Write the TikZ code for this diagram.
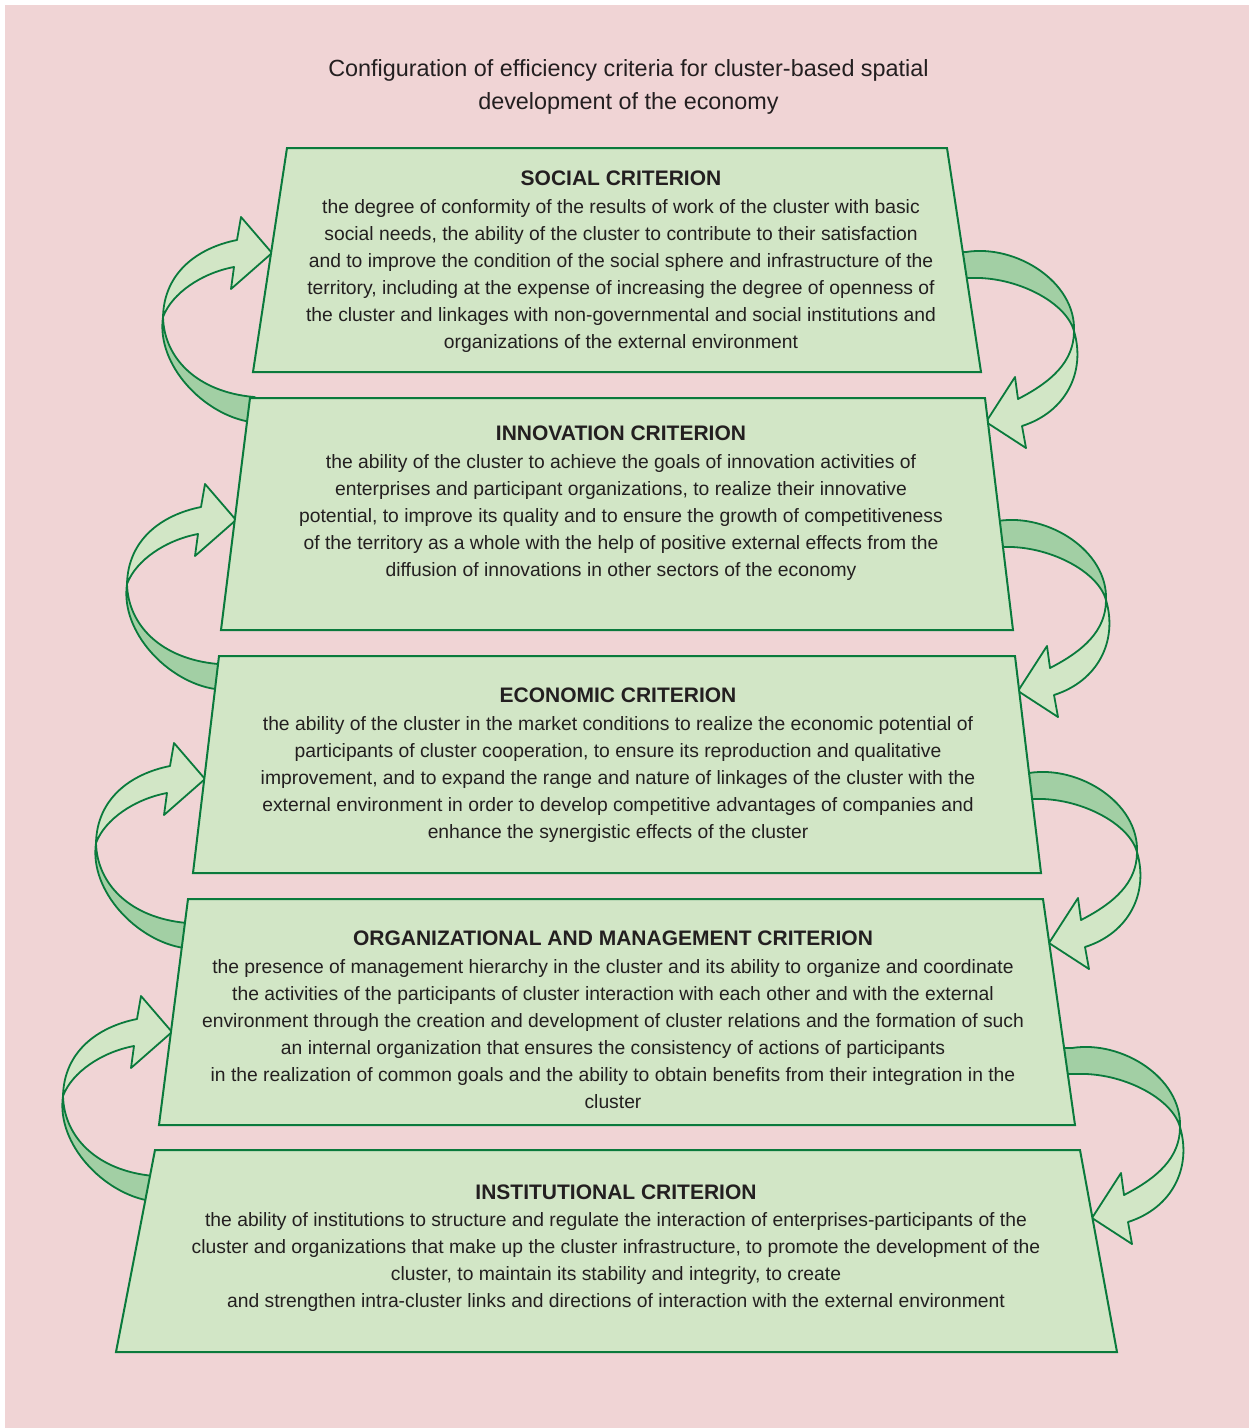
\documentclass[tikz,border=0pt]{standalone}
\usepackage{fontspec}
\setmainfont{Liberation Sans}
\definecolor{pinkbg}{HTML}{F0D4D5}
\definecolor{ltgreen}{HTML}{D2E6C6}
\definecolor{midgreen}{HTML}{A2CFA4}
\definecolor{dkgreen}{HTML}{0A7A3C}
\definecolor{txt}{HTML}{231F20}
\tikzset{
  crit/.style={draw=dkgreen, line width=2pt, fill=ltgreen, line join=miter},
  bandlight/.style={draw=dkgreen, line width=1.8pt, fill=ltgreen, line join=round},
  banddark/.style={draw=dkgreen, line width=1.8pt, fill=midgreen, line join=round},
  titletext/.style={font=\fontsize{21}{25}\selectfont\bfseries, text=txt, inner sep=0pt, anchor=base},
  bodytext/.style={font=\fontsize{19.3}{27}\selectfont, text=txt, align=center, inner sep=0pt, anchor=north},
  headtext/.style={font=\fontsize{23.4}{33}\selectfont, text=txt, align=center, inner sep=0pt, anchor=north}
}
% curved arrow on the left: tip at #1, tail below
\newcommand{\loopLeft}[1]{%
  \begin{scope}[shift={(#1)}]
    \filldraw[banddark] (-109,64) .. controls (-116,112) and (-68,162) .. (-21,169)
      -- (-8,172) -- (-6,149) -- (-18,144)
      .. controls (-75,139) and (-108,105) .. (-109,64) -- cycle;
    \filldraw[bandlight] (-35,-13) -- (-31,-36) -- (0,0) -- (-41,36) -- (-38,14)
      .. controls (-70,20) and (-100,40) .. (-109,64)
      .. controls (-108,20) and (-75,-5) .. (-35,-13) -- cycle;
  \end{scope}}
% curved arrow on the right: tip at #1, tail above
\newcommand{\loopRight}[1]{%
  \begin{scope}[shift={(#1)}]
    \filldraw[banddark] (-20,-170) .. controls (30,-178) and (90,-140) .. (88,-91)
      .. controls (80,-120) and (30,-146) .. (-16,-144)
      -- (-32,-144) -- (-36,-170) -- cycle;
    \filldraw[bandlight] (88,-91) .. controls (100,-50) and (80,-10) .. (36,4)
      -- (40,26) -- (0,0) -- (29,-45) -- (32,-23)
      .. controls (65,-40) and (88,-60) .. (88,-91) -- cycle;
  \end{scope}}
\begin{document}
\begin{tikzpicture}[x=1pt,y=-1pt]
\useasboundingbox (0,0) rectangle (1249,1428);
\fill[white] (0,0) rectangle (1249,1428);
\fill[pinkbg] (5,5) rectangle (1249,1428);

% heading
\node[headtext] (heading) at (628.5,59) {Configuration of efficiency criteria for cluster-based spatial\\development of the economy};

% arrow tips
\coordinate (tipL1) at (272,253);
\coordinate (tipL2) at (236,520);
\coordinate (tipL3) at (205,779);
\coordinate (tipL4) at (172,1032);
\coordinate (tipR1) at (986,422);
\coordinate (tipR2) at (1018,691);
\coordinate (tipR3) at (1049,943);
\coordinate (tipR4) at (1092,1218);

\loopLeft{tipL1}
\loopLeft{tipL2}
\loopLeft{tipL3}
\loopLeft{tipL4}
\loopRight{tipR1}
\loopRight{tipR2}
\loopRight{tipR3}
\loopRight{tipR4}

% criterion boxes
\draw[crit] (287,148) -- (947,148) -- (981,372) -- (253,372) -- cycle;
\draw[crit] (250,398) -- (985,398) -- (1013,630) -- (221,630) -- cycle;
\draw[crit] (219,656) -- (1015,656) -- (1041,873) -- (193,873) -- cycle;
\draw[crit] (188,899) -- (1043,899) -- (1075,1125) -- (159,1125) -- cycle;
\draw[crit] (155,1150) -- (1080,1150) -- (1117,1352) -- (116,1352) -- cycle;

% texts
\node[titletext] (socT) at (621,185) {SOCIAL CRITERION};
\node[bodytext] (socB) at (621,199) {the degree of conformity of the results of work of the cluster with basic\\
social needs, the ability of the cluster to contribute to their satisfaction\\
and to improve the condition of the social sphere and infrastructure of the\\
territory, including at the expense of increasing the degree of openness of\\
the cluster and linkages with non-governmental and social institutions and\\
organizations of the external environment};

\node[titletext] (innT) at (621,440) {INNOVATION CRITERION};
\node[bodytext] (innB) at (621,454) {the ability of the cluster to achieve the goals of innovation activities of\\
enterprises and participant organizations, to realize their innovative\\
potential, to improve its quality and to ensure the growth of competitiveness\\
of the territory as a whole with the help of positive external effects from the\\
diffusion of innovations in other sectors of the economy};

\node[titletext] (ecoT) at (618,702) {ECONOMIC CRITERION};
\node[bodytext] (ecoB) at (618,716) {the ability of the cluster in the market conditions to realize the economic potential of\\
participants of cluster cooperation, to ensure its reproduction and qualitative\\
improvement, and to expand the range and nature of linkages of the cluster with the\\
external environment in order to develop competitive advantages of companies and\\
enhance the synergistic effects of the cluster};

\node[titletext] (orgT) at (613,945) {ORGANIZATIONAL AND MANAGEMENT CRITERION};
\node[bodytext] (orgB) at (613,959) {the presence of management hierarchy in the cluster and its ability to organize and coordinate\\
the activities of the participants of cluster interaction with each other and with the external\\
environment through the creation and development of cluster relations and the formation of such\\
an internal organization that ensures the consistency of actions of participants\\
in the realization of common goals and the ability to obtain benefits from their integration in the\\
cluster};

\node[titletext] (insT) at (616,1199) {INSTITUTIONAL CRITERION};
\node[bodytext] (insB) at (616,1212) {the ability of institutions to structure and regulate the interaction of enterprises-participants of the\\
cluster and organizations that make up the cluster infrastructure, to promote the development of the\\
cluster, to maintain its stability and integrity, to create\\
and strengthen intra-cluster links and directions of interaction with the external environment};
\end{tikzpicture}
\end{document}
